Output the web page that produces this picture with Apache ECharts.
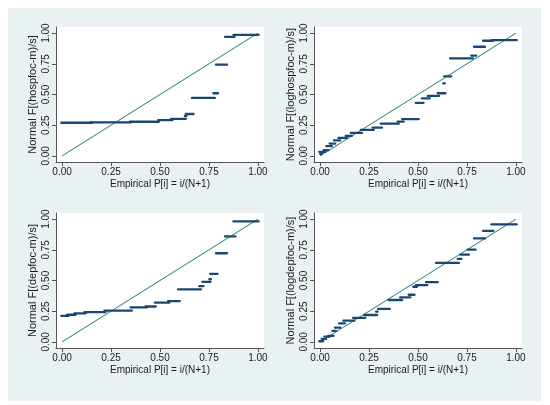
<!DOCTYPE html>
<html>
<head>
<meta charset="utf-8">
<script src="https://cdn.jsdelivr.net/npm/echarts@6/dist/echarts.min.js"></script>
<style>
html,body{margin:0;padding:0;background:#fff;}
#c{width:550px;height:405px;}
</style>
</head>
<body>
<div id="c"></div>
<script>
// ---- data ----
const tickValues = [0, 0.25, 0.5, 0.75, 1];
const tickLabels = ['0.00', '0.25', '0.50', '0.75', '1.00'];
const xTitle = 'Empirical P[i] = i/(N+1)';
const yTitles = ['Normal F[(hospfoc-m)/s]', 'Normal F[(loghospfoc-m)/s]', 'Normal F[(depfoc-m)/s]', 'Normal F[(logdepfoc-m)/s]'];
const refLine = [[0, 0], [1, 1]];

// runs of points: [x start, x end, y]
const hospfocRuns = [
  [0.00, 0.15, 0.270], [0.15, 0.35, 0.273], [0.35, 0.49, 0.278],
  [0.495, 0.56, 0.292], [0.56, 0.628, 0.302], [0.631, 0.631, 0.325],
  [0.636, 0.667, 0.341], [0.667, 0.776, 0.472], [0.776, 0.792, 0.510],
  [0.790, 0.838, 0.743], [0.836, 0.877, 0.970], [0.879, 1.00, 0.986]
];
const loghospfocRuns = [
  [0.005, 0.005, 0.015], [0.00, 0.022, 0.033], [0.022, 0.039, 0.046],
  [0.036, 0.056, 0.079], [0.053, 0.073, 0.100], [0.075, 0.099, 0.127],
  [0.098, 0.133, 0.146], [0.135, 0.159, 0.163], [0.161, 0.210, 0.187],
  [0.212, 0.270, 0.211], [0.272, 0.312, 0.230], [0.314, 0.398, 0.263],
  [0.400, 0.423, 0.279], [0.423, 0.500, 0.300], [0.493, 0.524, 0.431],
  [0.524, 0.556, 0.469], [0.554, 0.603, 0.488], [0.605, 0.636, 0.510],
  [0.633, 0.633, 0.591], [0.638, 0.666, 0.648], [0.668, 0.776, 0.794],
  [0.776, 0.793, 0.816], [0.790, 0.838, 0.889], [0.836, 0.879, 0.938],
  [0.881, 1.00, 0.943]
];
const depfocRuns = [
  [0.00, 0.03, 0.212], [0.03, 0.065, 0.221], [0.067, 0.116, 0.232],
  [0.118, 0.218, 0.243], [0.220, 0.352, 0.254], [0.354, 0.43, 0.281],
  [0.43, 0.474, 0.288], [0.478, 0.543, 0.319], [0.545, 0.597, 0.332],
  [0.596, 0.705, 0.427], [0.705, 0.718, 0.454], [0.720, 0.754, 0.489],
  [0.756, 0.756, 0.510], [0.760, 0.790, 0.554], [0.790, 0.838, 0.722],
  [0.836, 0.881, 0.859], [0.879, 1.00, 0.981]
];
const logdepfocRuns = [
  [0.00, 0.012, 0.005], [0.012, 0.027, 0.024], [0.026, 0.046, 0.043],
  [0.046, 0.065, 0.049], [0.067, 0.078, 0.089], [0.080, 0.099, 0.116],
  [0.101, 0.123, 0.151], [0.123, 0.171, 0.173], [0.173, 0.227, 0.195],
  [0.229, 0.287, 0.219], [0.290, 0.290, 0.246], [0.300, 0.352, 0.268],
  [0.354, 0.415, 0.341], [0.413, 0.457, 0.362], [0.456, 0.478, 0.384],
  [0.480, 0.491, 0.449], [0.493, 0.543, 0.462], [0.545, 0.597, 0.486],
  [0.596, 0.705, 0.643], [0.707, 0.718, 0.676], [0.720, 0.756, 0.711],
  [0.758, 0.790, 0.751], [0.790, 0.838, 0.843], [0.836, 0.881, 0.905],
  [0.879, 1.00, 0.957]
];
const panelRuns = [hospfocRuns, loghospfocRuns, depfocRuns, logdepfocRuns];

// ---- layout / style ----
const gridPos = [
  {left: 56, top: 27}, {left: 314, top: 27},
  {left: 56, top: 213}, {left: 314, top: 213}
];
const FONT = 'Liberation Sans, Arial, Helvetica, sans-serif';
const TEXT = '#1a1a1a';
const AXIS = '#555';
const MARK = '#1a476f';
const LINE = '#2f8a7c';

const chart = echarts.init(document.getElementById('c'), null, {renderer: 'canvas'});
const grids = [], xAxes = [], yAxes = [], series = [];

gridPos.forEach((p, i) => {
  grids.push({left: p.left, top: p.top, width: 208, height: 135, show: true,
    backgroundColor: '#ffffff', borderWidth: 0, containLabel: false});
  const fmt = v => tickLabels[tickValues.indexOf(v)] !== undefined ? tickLabels[tickValues.indexOf(v)] : v.toFixed(2);
  xAxes.push({
    type: 'value', gridIndex: i, min: -0.031, max: 1.031,
    name: xTitle, nameLocation: 'middle', nameGap: 17,
    nameTextStyle: {fontFamily: FONT, fontSize: 10, color: TEXT},
    axisLine: {show: true, onZero: false, lineStyle: {color: AXIS, width: 1}},
    axisTick: {show: true, length: 4, customValues: tickValues, lineStyle: {color: AXIS}},
    axisLabel: {show: true, customValues: tickValues, formatter: fmt, margin: 5,
      fontFamily: FONT, fontSize: 10, color: TEXT},
    splitLine: {show: false}
  });
  yAxes.push({
    type: 'value', gridIndex: i, min: -0.05, max: 1.05,
    name: yTitles[i], nameLocation: 'middle', nameGap: 18,
    nameTextStyle: {fontFamily: FONT, fontSize: 11, color: TEXT},
    axisLine: {show: true, onZero: false, lineStyle: {color: AXIS, width: 1}},
    axisTick: {show: true, length: 4, customValues: tickValues, lineStyle: {color: AXIS}},
    axisLabel: {show: true, customValues: tickValues, formatter: fmt, rotate: 90, margin: 5,
      fontFamily: FONT, fontSize: 10, color: TEXT},
    splitLine: {show: false}
  });
  series.push({
    type: 'line', xAxisIndex: i, yAxisIndex: i, data: refLine,
    symbol: 'none', lineStyle: {color: LINE, width: 1.1}, silent: true, z: 2
  });
  series.push({
    type: 'custom', xAxisIndex: i, yAxisIndex: i, data: panelRuns[i], z: 3,
    encode: {x: [0, 1], y: 2},
    renderItem: (params, api) => {
      const a = api.coord([api.value(0), api.value(2)]);
      const b = api.coord([api.value(1), api.value(2)]);
      return {type: 'line', shape: {x1: a[0] - 0.8, y1: a[1], x2: b[0] + 0.8, y2: b[1]},
        style: {stroke: MARK, lineWidth: 2.3, lineCap: 'round'}};
    }
  });
});

chart.setOption({
  backgroundColor: '#ffffff',
  animation: false,
  graphic: [{type: 'rect', shape: {x: 8, y: 8, width: 533, height: 393},
    style: {fill: '#e9f1f3'}, z: -10, silent: true}],
  grid: grids, xAxis: xAxes, yAxis: yAxes, series: series
});
</script>
</body>
</html>
